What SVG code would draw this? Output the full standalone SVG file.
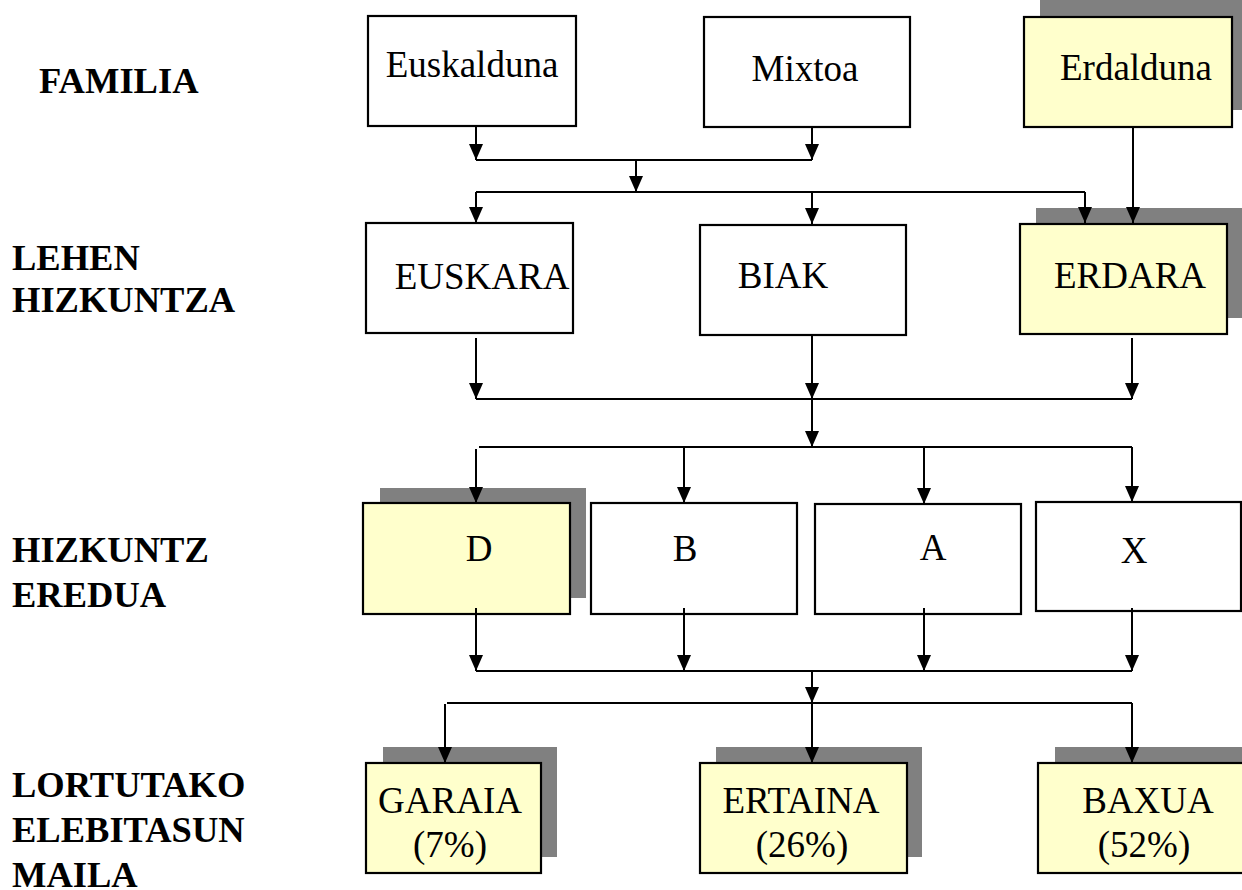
<svg xmlns="http://www.w3.org/2000/svg" width="1242" height="890" viewBox="0 0 1242 890">
<style>
.box{fill:#ffffff;stroke:#000;stroke-width:2.2}
.hl{fill:#ffffcc;stroke:#000;stroke-width:2.2}
.sh{fill:#808080;stroke:none}
.t{font-family:"Liberation Serif","Times New Roman",serif;font-size:37px;fill:#000;text-anchor:middle}
.lbl{font-family:"Liberation Serif","Times New Roman",serif;font-size:36.5px;font-weight:bold;fill:#000}
.c{fill:none;stroke:#000;stroke-width:2}
.a{marker-end:url(#arr)}
</style>
<defs>
<marker id="arr" markerUnits="userSpaceOnUse" markerWidth="16" markerHeight="14" refX="16" refY="7" orient="auto" viewBox="0 0 16 14">
<path d="M0,0 L16,7 L0,14 z" fill="#000"/>
</marker>
</defs>
<rect width="1242" height="890" fill="#fff"/>

<g id="labels">
<text class="lbl" x="39" y="93">FAMILIA</text>
<text class="lbl" x="12" y="270">LEHEN</text>
<text class="lbl" x="12" y="312">HIZKUNTZA</text>
<text class="lbl" x="12" y="562">HIZKUNTZ</text>
<text class="lbl" x="12" y="607">EREDUA</text>
<text class="lbl" x="12" y="797">LORTUTAKO</text>
<text class="lbl" x="12" y="842">ELEBITASUN</text>
<text class="lbl" x="12" y="887">MAILA</text>
</g>

<g id="euskalduna"><rect class="box" x="368" y="16" width="208" height="110"/><text class="t" x="472" y="77">Euskalduna</text></g>
<g id="mixtoa"><rect class="box" x="704" y="17" width="206" height="110"/><text class="t" x="805" y="81">Mixtoa</text></g>
<g id="erdalduna"><rect class="sh" x="1040" y="0" width="208" height="110"/><rect class="hl" x="1024" y="17" width="208" height="110"/><text class="t" x="1136" y="80">Erdalduna</text></g>

<g id="euskara"><rect class="box" x="366" y="223" width="207" height="110"/><text class="t" x="482" y="289">EUSKARA</text></g>
<g id="biak"><rect class="box" x="700" y="225" width="206" height="110"/><text class="t" x="783" y="288">BIAK</text></g>
<g id="erdara"><rect class="sh" x="1036" y="208" width="208" height="110"/><rect class="hl" x="1020" y="224" width="207" height="110"/><text class="t" x="1130" y="288">ERDARA</text></g>

<g id="d"><rect class="sh" x="380" y="488" width="206" height="110"/><rect class="hl" x="363" y="503" width="207" height="111"/><text class="t" x="479" y="561">D</text></g>
<g id="b"><rect class="box" x="591" y="503" width="206" height="111"/><text class="t" x="685" y="561">B</text></g>
<g id="a"><rect class="box" x="815" y="504" width="206" height="110"/><text class="t" x="933" y="560">A</text></g>
<g id="x"><rect class="box" x="1036" y="502" width="205" height="109"/><text class="t" x="1134" y="563">X</text></g>

<g id="garaia"><rect class="sh" x="383" y="747" width="174" height="110"/><rect class="hl" x="366" y="763" width="175" height="110"/><text class="t" x="450" y="813">GARAIA</text><text class="t" x="450" y="857">(7%)</text></g>
<g id="ertaina"><rect class="sh" x="716" y="747" width="206" height="110"/><rect class="hl" x="700" y="763" width="207" height="110"/><text class="t" x="801" y="813">ERTAINA</text><text class="t" x="802" y="857">(26%)</text></g>
<g id="baxua"><rect class="sh" x="1055" y="747" width="207" height="110"/><rect class="hl" x="1038" y="763" width="207" height="110"/><text class="t" x="1148" y="813">BAXUA</text><text class="t" x="1144" y="857">(52%)</text></g>

<g id="connectors">
<line class="c a" x1="476" y1="127" x2="476" y2="160"/>
<line class="c a" x1="812" y1="128" x2="812" y2="160"/>
<line class="c" x1="476" y1="160" x2="812" y2="160"/>
<line class="c a" x1="636" y1="160" x2="636" y2="192"/>
<line class="c" x1="476" y1="192" x2="1085" y2="192"/>
<line class="c a" x1="476" y1="192" x2="476" y2="223"/>
<line class="c a" x1="812" y1="192" x2="812" y2="224"/>
<line class="c a" x1="1085" y1="192" x2="1085" y2="223"/>
<line class="c a" x1="1133" y1="128" x2="1133" y2="223"/>

<line class="c a" x1="476" y1="338" x2="476" y2="399"/>
<line class="c a" x1="812" y1="336" x2="812" y2="399"/>
<line class="c a" x1="1132" y1="338" x2="1132" y2="399"/>
<line class="c" x1="476" y1="399" x2="1132" y2="399"/>
<line class="c a" x1="812" y1="399" x2="812" y2="447"/>
<line class="c" x1="479" y1="447" x2="1132" y2="447"/>
<line class="c a" x1="476" y1="449" x2="476" y2="503"/>
<line class="c a" x1="684" y1="447" x2="684" y2="503"/>
<line class="c a" x1="924" y1="447" x2="924" y2="504"/>
<line class="c a" x1="1132" y1="447" x2="1132" y2="502"/>

<line class="c a" x1="476" y1="608" x2="476" y2="671"/>
<line class="c a" x1="684" y1="608" x2="684" y2="671"/>
<line class="c a" x1="924" y1="608" x2="924" y2="671"/>
<line class="c a" x1="1132" y1="608" x2="1132" y2="671"/>
<line class="c" x1="476" y1="671" x2="1132" y2="671"/>
<line class="c a" x1="812" y1="671" x2="812" y2="703"/>
<line class="c" x1="447" y1="703" x2="1132" y2="703"/>
<line class="c a" x1="445" y1="704" x2="445" y2="763"/>
<line class="c a" x1="812" y1="703" x2="812" y2="763"/>
<line class="c a" x1="1132" y1="703" x2="1132" y2="763"/>
</g>
</svg>
